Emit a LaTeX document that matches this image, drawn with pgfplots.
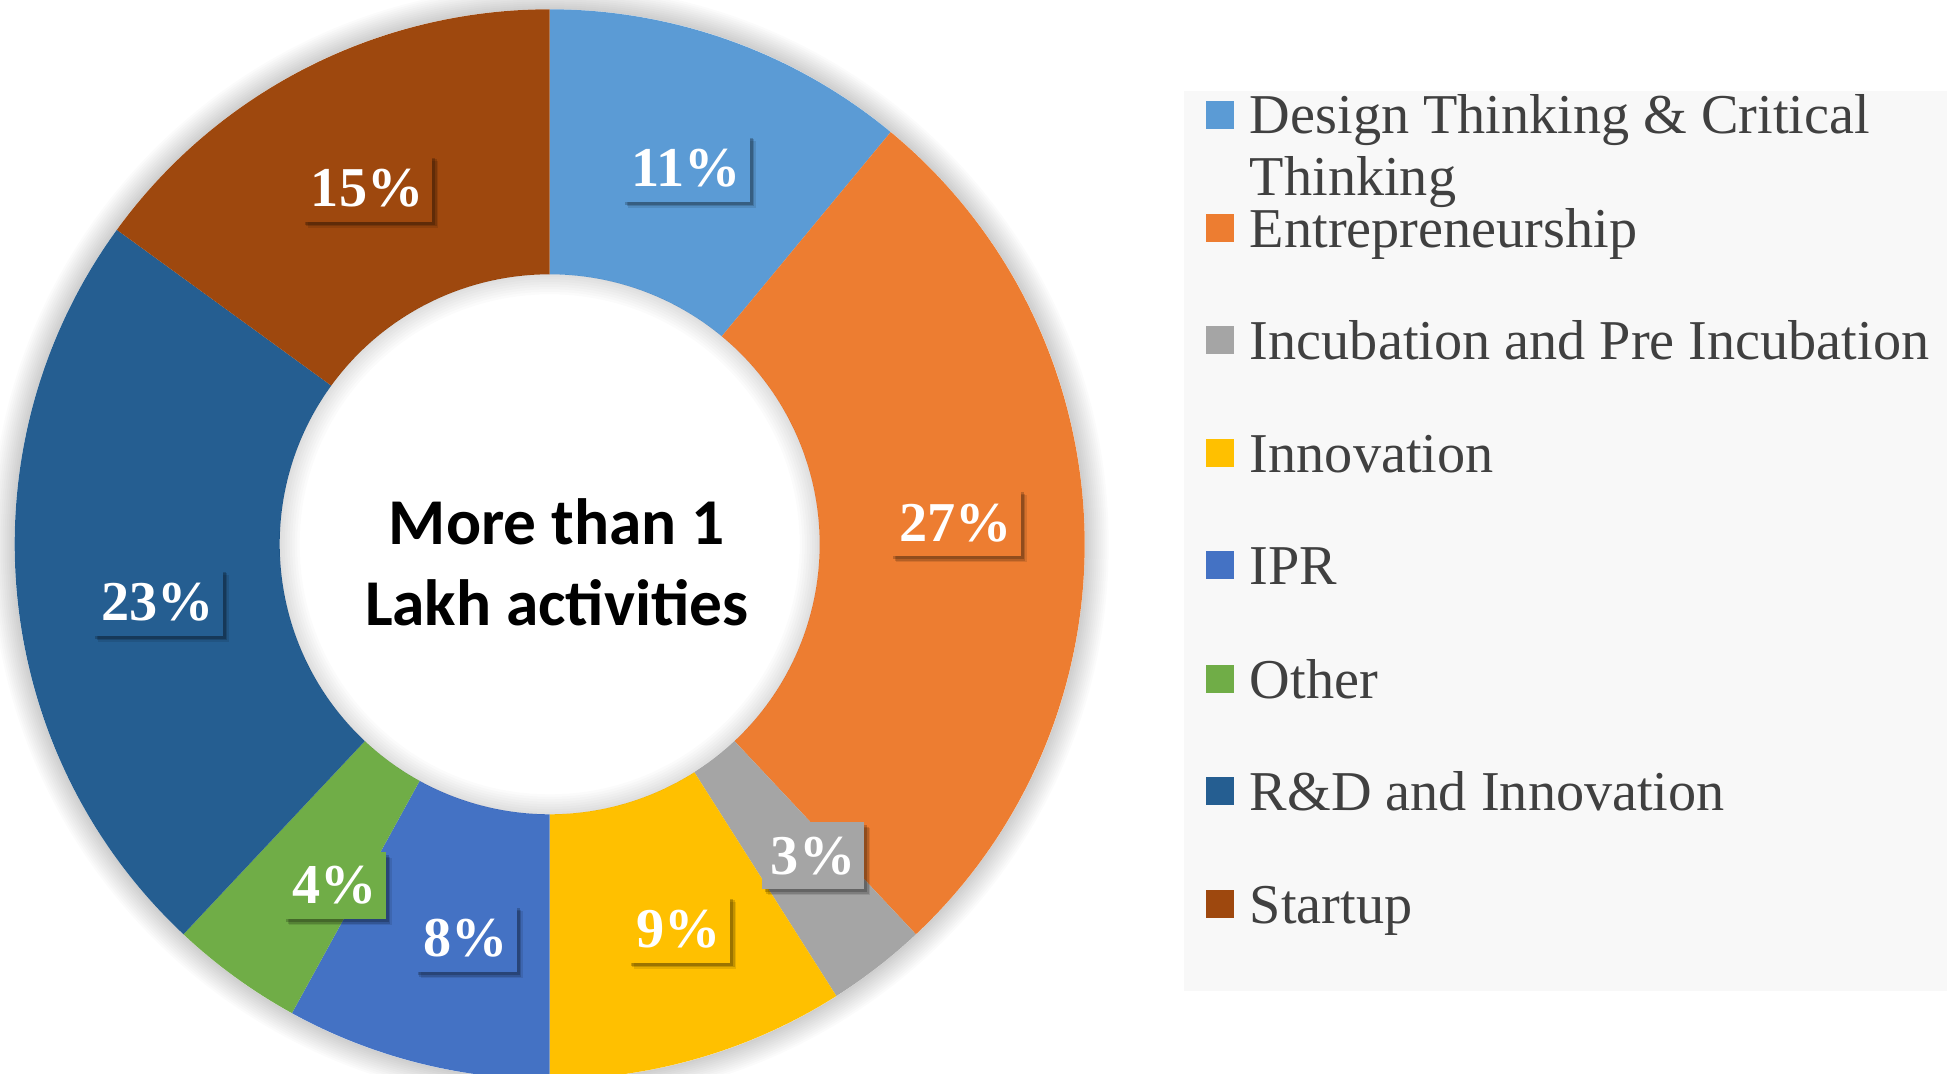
\documentclass[border=0pt]{standalone}
\usepackage{pgfplots}
\pgfplotsset{compat=1.18}
\usepackage{pgfplotstable}
\usepackage{fontspec}
\setmainfont{Liberation Serif}
\newfontfamily\carlito{Carlito}

\definecolor{c0}{HTML}{5B9BD5}
\definecolor{c1}{HTML}{ED7D31}
\definecolor{c2}{HTML}{A5A5A5}
\definecolor{c3}{HTML}{FFC000}
\definecolor{c4}{HTML}{4472C4}
\definecolor{c5}{HTML}{70AD47}
\definecolor{c6}{HTML}{255E91}
\definecolor{c7}{HTML}{9E480E}
\definecolor{legbg}{HTML}{F8F8F8}
\definecolor{legtext}{HTML}{404040}

% share of activities (%), clockwise from 12 o'clock
\pgfplotstableread{
value
11
27
3
9
8
4
23
15
}\donut

% small label nudges (px) as placed in the reference
\def\offx{{0,4,17,17,16,21,8,0}}
\def\offy{{-2,9,6,1,-5,-16,-20,-2}}

\def\cumsum{0}
\pgfplotsforeachungrouped \i in {0,...,7}{%
  \pgfplotstablegetelem{\i}{value}\of\donut
  \let\curval\pgfplotsretval
  \expandafter\xdef\csname val\i\endcsname{\curval}%
  \pgfmathsetmacro\angS{90-3.6*\cumsum}%
  \pgfmathsetmacro\newcum{\cumsum+\curval}%
  \pgfmathsetmacro\angE{90-3.6*\newcum}%
  \pgfmathsetmacro\angM{(\angS+\angE)/2}%
  \pgfmathsetmacro\dxx{\offx[\i]*0.284528}%
  \pgfmathsetmacro\dyy{\offy[\i]*0.284528}%
  \expandafter\xdef\csname as\i\endcsname{\angS}%
  \expandafter\xdef\csname ae\i\endcsname{\angE}%
  \expandafter\xdef\csname am\i\endcsname{\angM}%
  \expandafter\xdef\csname ox\i\endcsname{\dxx pt}%
  \expandafter\xdef\csname oy\i\endcsname{\dyy pt}%
  \xdef\cumsum{\newcum}%
}

\tikzset{lbl/.style={font=\bfseries\fontsize{16}{19}\selectfont, text=white,
  inner xsep=0.9mm, inner ysep=0pt, minimum height=6.7mm,
  preaction={draw=none, fill=black, fill opacity=0.10, transform canvas={xshift=0.6mm, yshift=-0.6mm}},
  preaction={draw=none, fill=black, fill opacity=0.15, transform canvas={xshift=0.45mm, yshift=-0.45mm}},
  preaction={draw=none, fill=black, fill opacity=0.2, transform canvas={xshift=0.3mm, yshift=-0.3mm}}}}

\begin{document}
\begin{tikzpicture}
\fill[white] (0,0) rectangle (19.6cm,10.74cm);
\begin{axis}[name=ax, hide axis, scale only axis, x=0.01cm, y=0.01cm,
  xmin=0, xmax=1960, ymin=0, ymax=1074, clip=true]
% soft outer shadow
\pgfplotsinvokeforeach{1,...,12}{
  \fill[black, opacity=0.016] (axis cs:550,530) circle[radius={5.35cm+#1*0.2mm}];
}
\fill[white] (axis cs:550,530) circle[radius=5.35cm];
% ring segments
\pgfplotsinvokeforeach{0,...,7}{
  \fill[c#1] (axis cs:550,530) ++(\csname as#1\endcsname:5.35cm)
    arc[start angle=\csname as#1\endcsname, end angle=\csname ae#1\endcsname, radius=5.35cm]
    -- ++({\csname ae#1\endcsname+180}:2.65cm)
    arc[start angle=\csname ae#1\endcsname, end angle=\csname as#1\endcsname, radius=2.7cm]
    -- cycle;
}
% inner shadow of the hole
\pgfplotsinvokeforeach{1,...,8}{
  \fill[black, opacity=0.015, even odd rule] (axis cs:550,530) circle[radius=2.7cm] circle[radius={2.7cm-#1*0.25mm}];
}
% data labels
\pgfplotsinvokeforeach{0,...,7}{
  \path (axis cs:550,530) ++(\csname am#1\endcsname:4.02cm)
    node[lbl, fill=c#1, xshift=\csname ox#1\endcsname, yshift=\csname oy#1\endcsname] {\csname val#1\endcsname\%};
}
\node[font=\carlito\bfseries\fontsize{18.6}{22.8}\selectfont, align=center] at (axis cs:557,512) {More than 1\\Lakh activities};
\end{axis}
\begin{scope}[x=0.01cm, y=0.01cm]
\fill[legbg] (1185,83) rectangle (1948,984);
\foreach \yc/\c/\t in {114/c0/{Design Thinking \& Critical}, 228/c1/Entrepreneurship, 340/c2/{Incubation and Pre Incubation}, 453/c3/Innovation, 565/c4/IPR, 679/c5/Other, 791/c6/{R\&D and Innovation}, 904/c7/Startup}{
  \fill[\c] (1207,1074-\yc-14) rectangle (1235,1074-\yc+14);
  \node[anchor=base west, inner sep=0, text=legtext, font=\fontsize{16}{19}\selectfont] at (1250,1074-\yc-19) {\t};
}
\node[anchor=base west, inner sep=0, text=legtext, font=\fontsize{16}{19}\selectfont] at (1250,1074-176-19) {Thinking};
\end{scope}
\pgfresetboundingbox
\path (0,0) rectangle (19.6cm,10.74cm);
\end{tikzpicture}
\end{document}
